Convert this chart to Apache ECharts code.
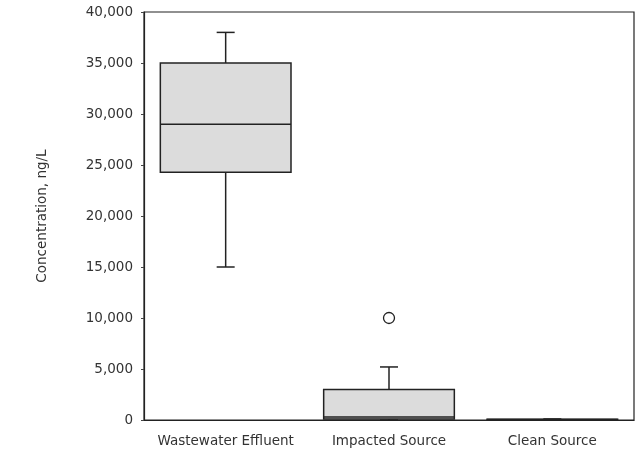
<!DOCTYPE html>
<html><head><meta charset="utf-8">
<script src="https://cdn.jsdelivr.net/npm/echarts@6/dist/echarts.min.js"></script>
<style>html,body{margin:0;padding:0;background:#fff}#c{width:641px;height:454px}</style>
</head><body><div id="c"></div>
<script>
var categories = ['Wastewater Effluent', 'Impacted Source', 'Clean Source'];
// [min, Q1, median, Q3, max]
var boxStats = [
  [15000, 24300, 29000, 35000, 38000],
  [0, 100, 300, 3000, 5200],
  [0, 20, 40, 80, 100]
];
var outliers = [[1, 10000]];
var yTicks = [0, 5000, 10000, 15000, 20000, 25000, 30000, 35000, 40000];

var chart = echarts.init(document.getElementById('c'));
var boxData = boxStats.map(function (s, i) { return [i].concat(s); });
var font = 'DejaVu Sans, Arial, sans-serif';
chart.setOption({
  animation: false,
  grid: { left: 144, right: 7, top: 12, bottom: 34, show: true, borderColor: '#222', borderWidth: 1.2, backgroundColor: 'transparent' },
  xAxis: {
    type: 'category', data: categories,
    axisLine: { lineStyle: { color: '#222', width: 1.2 } },
    axisTick: { show: false },
    axisLabel: { color: '#333', fontFamily: font, fontSize: 13.5, margin: 14, interval: 0, hideOverlap: false }
  },
  yAxis: {
    type: 'value', min: yTicks[0], max: yTicks[yTicks.length - 1], interval: 5000,
    name: 'Concentration, ng/L', nameLocation: 'middle', nameGap: 95,
    nameTextStyle: { color: '#333', fontFamily: font, fontSize: 13.5 },
    splitLine: { show: false },
    axisLine: { show: true, lineStyle: { color: '#222', width: 1.2 } },
    axisTick: { show: true, length: 3, lineStyle: { color: '#444' } },
    axisLabel: { color: '#333', fontFamily: font, fontSize: 13.5, margin: 11,
      formatter: function (v) { return v.toString().replace(/\B(?=(\d{3})+(?!\d))/g, ','); } }
  },
  series: [{
    type: 'custom',
    data: boxData,
    renderItem: function (params, api) {
      var x = api.value(0);
      var w = api.size([1, 0])[0] * 0.8;
      var cap = 18;
      var pMin = api.coord([x, api.value(1)]);
      var pQ1 = api.coord([x, api.value(2)]);
      var pMed = api.coord([x, api.value(3)]);
      var pQ3 = api.coord([x, api.value(4)]);
      var pMax = api.coord([x, api.value(5)]);
      var cx = pQ1[0];
      var st = { stroke: '#222', lineWidth: 1.5, fill: null };
      return {
        type: 'group',
        children: [
          { type: 'line', shape: { x1: cx, y1: pQ3[1], x2: cx, y2: pMax[1] }, style: st },
          { type: 'line', shape: { x1: cx - cap / 2, y1: pMax[1], x2: cx + cap / 2, y2: pMax[1] }, style: st },
          { type: 'line', shape: { x1: cx, y1: pQ1[1], x2: cx, y2: pMin[1] }, style: st },
          { type: 'line', shape: { x1: cx - cap / 2, y1: pMin[1], x2: cx + cap / 2, y2: pMin[1] }, style: st },
          { type: 'rect', shape: { x: cx - w / 2, y: pQ3[1], width: w, height: Math.max(pQ1[1] - pQ3[1], 1) },
            style: { fill: '#dcdcdc', stroke: '#222', lineWidth: 1.5 } },
          { type: 'line', shape: { x1: cx - w / 2, y1: pMed[1], x2: cx + w / 2, y2: pMed[1] }, style: st }
        ]
      };
    },
    z: 3
  }, {
    type: 'scatter',
    data: outliers,
    symbol: 'circle', symbolSize: 11,
    itemStyle: { color: '#fff', borderColor: '#222', borderWidth: 1.3, opacity: 1 },
    z: 4
  }]
});
</script></body></html>
